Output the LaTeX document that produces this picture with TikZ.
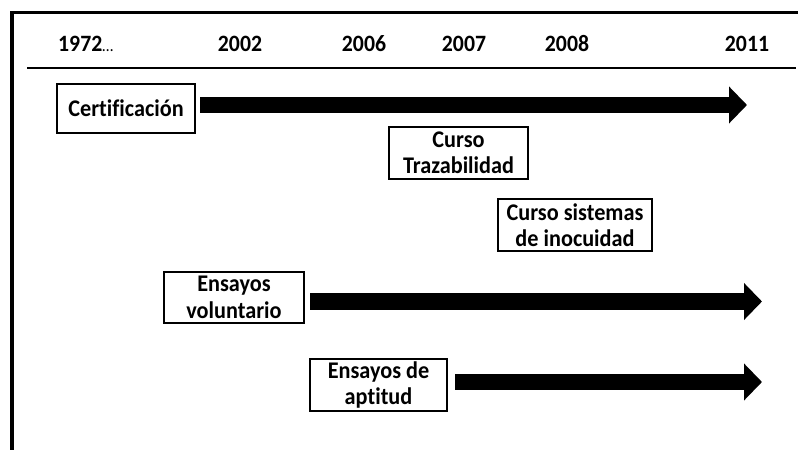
\documentclass[tikz,border=0pt]{standalone}
\usepackage{fontspec}
\setmainfont{Carlito}[Ligatures={NoCommon}]
\newfontfamily\tallfont{Carlito}[Ligatures={NoCommon}, FakeStretch=0.93]
\usetikzlibrary{arrows.meta}
\tikzset{
  box/.style={draw=black, line width=2bp, fill=white, align=center, inner sep=0pt,
    font=\tallfont\fontsize{24}{26.5}\selectfont\bfseries},
  year/.style={anchor=base, inner sep=0pt, font=\tallfont\fontsize{23.5}{26}\selectfont\bfseries},
  bigarrow/.style={line width=16.5bp, line cap=butt, -{Triangle[length=18bp,width=36bp]}},
  frame/.style={line width=3.5bp, line cap=butt}
}
\begin{document}
\begin{tikzpicture}[x=1bp,y=-1bp]
\useasboundingbox (0,0) rectangle (798,450);
% frame
\draw[frame] (12,450) -- (12,12.5) -- (798,12.5);
\draw[line width=2.5bp] (27,68) -- (796,68);
% years
\node[year, anchor=base west] (y1972) at (58,52) {1972{\mdseries\fontsize{17}{20}\selectfont\dots}};
\node[year] (y2002) at (240,52) {2002};
\node[year] (y2006) at (364,52) {2006};
\node[year] (y2007) at (464,52) {2007};
\node[year] (y2008) at (567,52) {2008};
\node[year] (y2011) at (747,52) {2011};
% boxes
\node[box, minimum width=138bp, minimum height=49bp] (cert) at (126,108.5) {Certificación};
\node[box, minimum width=139bp, minimum height=52bp] (traz) at (458.5,153) {Curso\\Trazabilidad};
\node[box, minimum width=154bp, minimum height=52bp] (sist) at (575,225) {Curso sistemas\\de inocuidad};
\node[box, minimum width=140bp, minimum height=51bp] (vol) at (234,297.5) {Ensayos\\voluntario};
\node[box, minimum width=137bp, minimum height=52bp] (apt) at (378.5,385) {Ensayos de\\aptitud};
% arrow tips
\coordinate (t1) at (747,105);
\coordinate (t2) at (762,301.5);
\coordinate (t3) at (762,382);
% arrows
\draw[bigarrow] ([xshift=4bp]cert.east |- t1) -- (t1);
\draw[bigarrow] ([xshift=5bp]vol.east |- t2) -- (t2);
\draw[bigarrow] ([xshift=7bp]apt.east |- t3) -- (t3);
\end{tikzpicture}
\end{document}
